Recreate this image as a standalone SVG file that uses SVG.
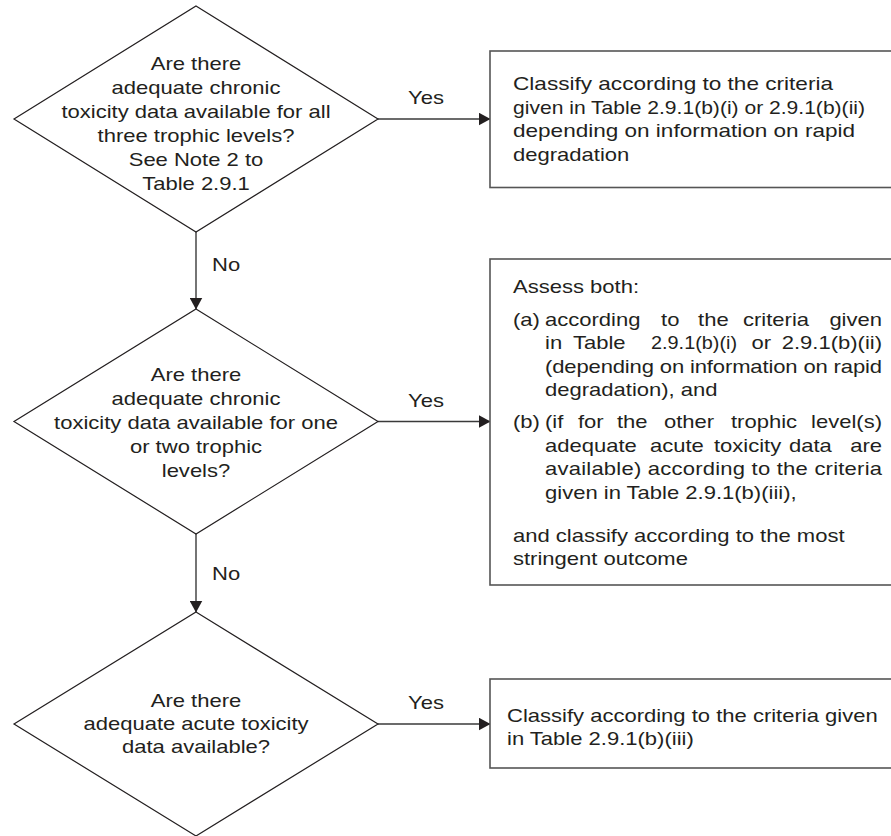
<svg xmlns="http://www.w3.org/2000/svg" width="891" height="836" viewBox="0 0 891 836">
<style>
.t{font-family:"Liberation Sans",Arial,Helvetica,sans-serif;font-size:18.5px;fill:#231f20}
.m{text-anchor:middle}
.e{text-anchor:end}
.dia{fill:#fff;stroke:#231f20;stroke-width:1.2}
.box{fill:#fff;stroke:#555;stroke-width:1.6}
.conn{fill:none;stroke:#3a3a3a;stroke-width:1.4;marker-end:url(#arr)}
</style>
<defs>
<marker id="arr" markerUnits="userSpaceOnUse" markerWidth="12" markerHeight="13" refX="11.5" refY="6.5" orient="auto">
<path d="M0,0 L12,6.5 L0,13 Z" fill="#231f20"/>
</marker>
</defs>
<rect width="891" height="836" fill="#fff"/>

<g id="connectors">
<path class="conn" d="M196,232 V309"/>
<path class="conn" d="M196,534 V612"/>
<path class="conn" d="M378,119 H490"/>
<path class="conn" d="M378,421.5 H490"/>
<path class="conn" d="M378,724 H490"/>
<g class="t">
<text class="m" transform="translate(426,104) scale(1.19,1)">Yes</text>
<text class="m" transform="translate(426,406.5) scale(1.19,1)">Yes</text>
<text class="m" transform="translate(426,709) scale(1.19,1)">Yes</text>
<text transform="translate(212,271) scale(1.19,1)">No</text>
<text transform="translate(212,580) scale(1.19,1)">No</text>
</g>
</g>

<g id="d1">
<polygon class="dia" points="196,6 378,119 196,232 14,119"/>
<g class="t m" transform="translate(196,0) scale(1.19,1)">
<text x="0" y="70">Are there</text>
<text x="0" y="94">adequate chronic</text>
<text x="0" y="118">toxicity data available for all</text>
<text x="0" y="142">three trophic levels?</text>
<text x="0" y="166">See Note 2 to</text>
<text x="0" y="190">Table 2.9.1</text>
</g>
</g>

<g id="d2">
<polygon class="dia" points="196,309 378,421.5 196,534 14,421.5"/>
<g class="t m" transform="translate(196,0) scale(1.19,1)">
<text x="0" y="381.5">Are there</text>
<text x="0" y="405.3">adequate chronic</text>
<text x="0" y="429.2">toxicity data available for one</text>
<text x="0" y="453">or two trophic</text>
<text x="0" y="476.8">levels?</text>
</g>
</g>

<g id="d3">
<polygon class="dia" points="196,612 378,724 196,836 14,724"/>
<g class="t m" transform="translate(196,0) scale(1.19,1)">
<text x="0" y="706.7">Are there</text>
<text x="0" y="730">adequate acute toxicity</text>
<text x="0" y="753.3">data available?</text>
</g>
</g>

<g id="b1">
<rect class="box" x="490" y="51" width="420" height="136.5"/>
<g class="t" transform="translate(513,0) scale(1.19,1)">
<text x="0" y="90.5" textLength="268.9" lengthAdjust="spacingAndGlyphs">Classify according to the criteria</text>
<text x="0" y="114" textLength="295.8" lengthAdjust="spacingAndGlyphs">given in Table 2.9.1(b)(i) or 2.9.1(b)(ii)</text>
<text x="0" y="137.5" textLength="287.4" lengthAdjust="spacingAndGlyphs">depending on information on rapid</text>
<text x="0" y="161">degradation</text>
</g>
</g>

<g id="b2">
<rect class="box" x="490" y="259" width="420" height="326"/>
<g class="t" transform="translate(513,0) scale(1.19,1)">
<text x="0" y="293">Assess both:</text>
<text x="0" y="326">(a)</text>
<text x="26.9" y="326">according</text>
<text x="124.4" y="326">to</text>
<text x="155.5" y="326">the</text>
<text x="193.3" y="326">criteria</text>
<text class="e" x="310.1" y="326">given</text>
<text x="26.9" y="349.5">in</text>
<text x="50.4" y="349.5">Table</text>
<text x="116" y="349.5" textLength="72.3" lengthAdjust="spacingAndGlyphs">2.9.1(b)(i)</text>
<text x="200.5" y="349.5">or</text>
<text class="e" x="310.1" y="349.5">2.9.1(b)(ii)</text>
<text x="26.9" y="373" textLength="283.2" lengthAdjust="spacing">(depending on information on rapid</text>
<text x="26.9" y="396">degradation), and</text>
<text x="0" y="428.5">(b)</text>
<text x="26.9" y="428.5">(if</text>
<text x="54.6" y="428.5">for</text>
<text x="87.4" y="428.5">the</text>
<text x="126.9" y="428.5">other</text>
<text x="183.2" y="428.5">trophic</text>
<text class="e" x="310.1" y="428.5">level(s)</text>
<text x="26.9" y="452">adequate</text>
<text x="115.1" y="452">acute</text>
<text x="168.9" y="452">toxicity</text>
<text x="231.9" y="452">data</text>
<text class="e" x="310.1" y="452">are</text>
<text x="26.9" y="475.5" textLength="283.2" lengthAdjust="spacing">available) according to the criteria</text>
<text x="26.9" y="499">given in Table 2.9.1(b)(iii),</text>
<text x="0" y="542">and classify according to the most</text>
<text x="0" y="565.5">stringent outcome</text>
</g>
</g>

<g id="b3">
<rect class="box" x="490" y="679" width="420" height="89"/>
<g class="t" transform="translate(507,0) scale(1.19,1)">
<text x="0" y="722">Classify according to the criteria given</text>
<text x="0" y="745.5">in Table 2.9.1(b)(iii)</text>
</g>
</g>
</svg>
